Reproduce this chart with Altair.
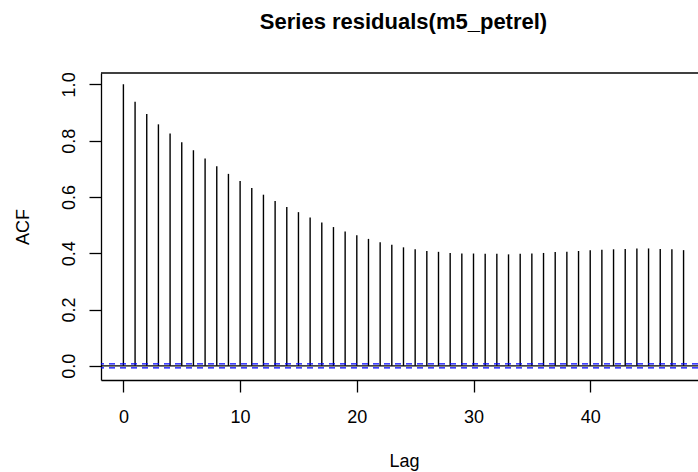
import altair as alt
import pandas as pd

# Autocorrelation of the residuals, lags 0..48
lags = list(range(49))
acf_values = [
    1.000, 0.938, 0.895, 0.858, 0.825, 0.794, 0.766, 0.737, 0.709, 0.682,
    0.657, 0.632, 0.608, 0.586, 0.564, 0.546, 0.527, 0.509, 0.493, 0.477,
    0.464, 0.451, 0.439, 0.430, 0.421, 0.414, 0.408, 0.405, 0.401, 0.399,
    0.399, 0.398, 0.398, 0.396, 0.398, 0.399, 0.401, 0.404, 0.405, 0.408,
    0.411, 0.412, 0.414, 0.415, 0.417, 0.417, 0.415, 0.414, 0.411,
]
# approximate 95% white-noise bounds
ci_bounds = [0.0071, -0.0071]
x_ticks = [0, 10, 20, 30, 40]
y_ticks = [0.0, 0.2, 0.4, 0.6, 0.8, 1.0]

FONT = "Liberation Sans"
W, H = 597, 307
X_DOMAIN = [-1.92, -1.92 + W / 11.67]
Y_DOMAIN = [-0.0504, 1.0404]

acf_df = pd.DataFrame({"lag": lags, "acf": acf_values, "zero": [0.0] * len(lags)})
ci_df = pd.DataFrame({"ci": ci_bounds})
zero_df = pd.DataFrame({"zero": [0.0]})

x_scale = alt.Scale(domain=X_DOMAIN, nice=False, zero=False)
y_scale = alt.Scale(domain=Y_DOMAIN, nice=False, zero=False)

x_axis = alt.Axis(
    title="Lag", values=x_ticks, format="d",
    labelBaseline="alphabetic", labelPadding=30,
    titleX=303, titleY=86, titleBaseline="alphabetic", titleAlign="center",
)
y_axis = alt.Axis(
    title="ACF", values=y_ticks, format=".1f",
    labelAngle=270, labelAlign="center", labelBaseline="alphabetic",
    labelPadding=15,
    titleAngle=270, titleX=-73, titleY=H / 2, titleBaseline="alphabetic",
    titleAlign="center",
)

spikes = alt.Chart(acf_df).mark_rule(color="black", strokeWidth=1.4).encode(
    x=alt.X("lag:Q", scale=x_scale, axis=x_axis),
    y=alt.Y("zero:Q", scale=y_scale, axis=y_axis),
    y2="acf:Q",
)

zero_line = alt.Chart(zero_df).mark_rule(color="black", strokeWidth=1.3).encode(
    y=alt.Y("zero:Q", scale=y_scale, axis=y_axis)
)

ci_lines = alt.Chart(ci_df).mark_rule(
    color="#0000FF", strokeWidth=1.3, strokeDash=[6, 5]
).encode(y=alt.Y("ci:Q", scale=y_scale, axis=y_axis))

top_border = alt.Chart(zero_df).mark_rule(color="black", strokeWidth=1.3).encode(
    x=alt.value(0), x2=alt.value(W + 5), y=alt.value(0)
)

chart = (
    alt.layer(spikes, zero_line, ci_lines, top_border)
    .properties(
        width=W,
        height=H,
        background="white",
        title=alt.TitleParams(
            text="Series  residuals(m5_petrel)",
            font=FONT, fontSize=22, fontWeight="bold", color="black",
            anchor="middle", frame="group", dx=4, offset=21,
            baseline="alphabetic",
        ),
        autosize=alt.AutoSizeParams(type="none"),
        padding={"left": 101, "top": 73, "right": 0, "bottom": 92},
    )
    .configure_axis(
        grid=False,
        domainColor="black", domainWidth=1.3,
        tickColor="black", tickWidth=1.3, tickSize=12,
        labelFont=FONT, labelFontSize=18, labelColor="black", labelFlush=False,
        titleFont=FONT, titleFontSize=18, titleFontWeight="normal",
        titleColor="black",
    )
    .configure_view(stroke=None)
)

chart.save("out.html", embed_options={"renderer": "svg", "actions": False})
